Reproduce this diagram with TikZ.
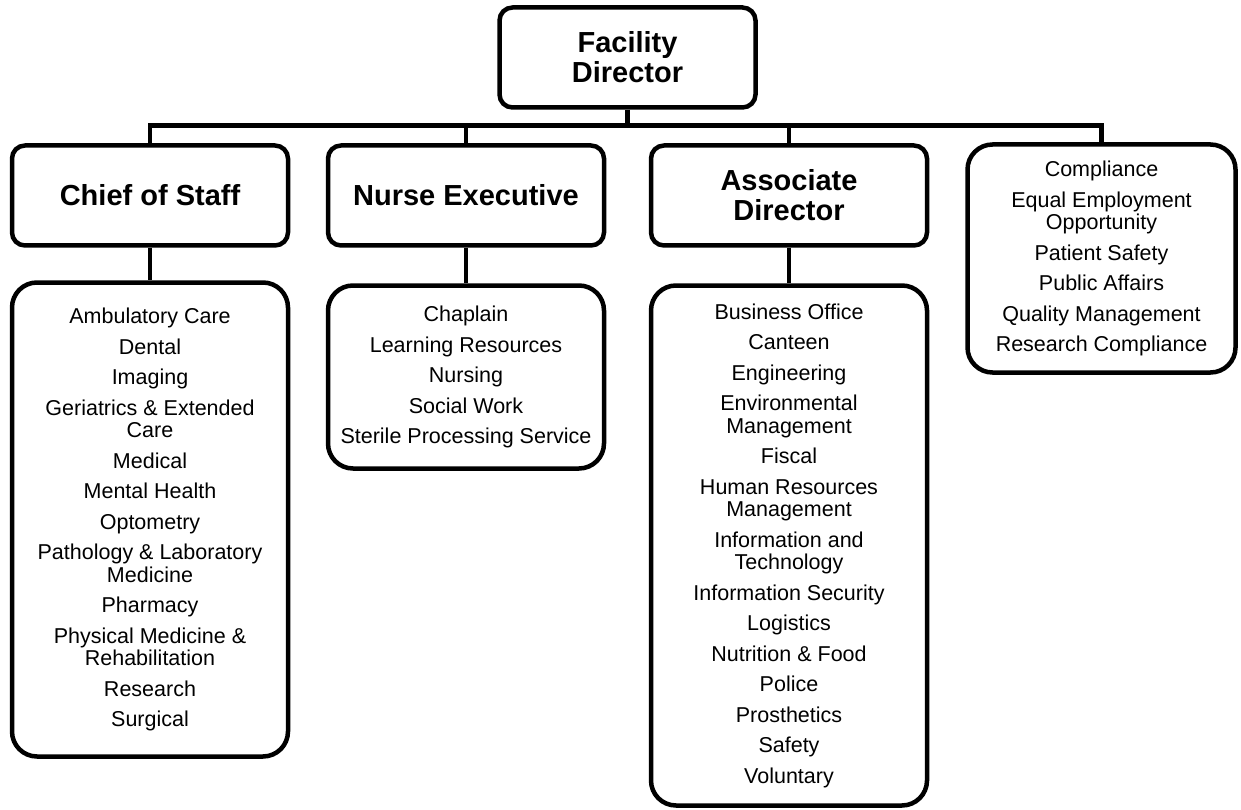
\documentclass[tikz,border=0pt]{standalone}
\usepackage{fontspec}
\setmainfont{Liberation Sans}
\usetikzlibrary{positioning}
\newcommand{\nextunit}{\\[8pt]}
\tikzset{
  unit box/.style={draw, line width=4.5pt, rounded corners=13pt, align=center, inner sep=0pt, fill=white},
  title/.style={unit box, font=\fontsize{29}{30}\selectfont\bfseries, minimum width=276pt, minimum height=100pt},
  staff list/.style={unit box, rounded corners=25pt, font=\fontsize{21.5}{22.5}\selectfont, minimum width=276pt},
  link/.style={line width=4.5pt}
}

\begin{document}
\begin{tikzpicture}[x=1pt,y=-1pt]
    \useasboundingbox (0,0) rectangle (1241,810);

    \node (fd) [title, minimum width=256pt] at (627.5,57.5) {Facility\\Director};
    \coordinate (bus) at (627.5,125.5);

    \node (cos) [title] at (150,195.5) {Chief of Staff};
    \node (ne) [title, right of=cos, node distance=316pt] {Nurse Executive};
    \node (ad) [title, right of=ne, node distance=323pt] {Associate\\Director};
    \node (oth) [staff list, minimum width=268pt, minimum height=228pt] at (1101.5,258.5)
      {Compliance\nextunit Equal Employment\\Opportunity\nextunit Patient Safety\nextunit
       Public Affairs\nextunit Quality Management\nextunit Research Compliance};

    \node (cosl) [staff list, minimum height=474pt, below of=cos, node distance=324pt]
      {Ambulatory Care\nextunit Dental\nextunit Imaging\nextunit Geriatrics \& Extended\\Care\nextunit
       Medical\nextunit Mental Health\nextunit Optometry\nextunit
       Pathology \& Laboratory\\Medicine\nextunit Pharmacy\nextunit
       Physical Medicine \&\\Rehabilitation\nextunit Research\nextunit Surgical};
    \node (nel) [staff list, minimum height=183pt, below of=ne, node distance=181.5pt]
      {Chaplain\nextunit Learning Resources\nextunit Nursing\nextunit Social Work\nextunit
       Sterile Processing Service};
    \node (adl) [staff list, minimum height=520pt, below of=ad, node distance=350pt]
      {Business Office\nextunit Canteen\nextunit Engineering\nextunit Environmental\\Management\nextunit
       Fiscal\nextunit Human Resources\\Management\nextunit Information and\\Technology\nextunit
       Information Security\nextunit Logistics\nextunit Nutrition \& Food\nextunit Police\nextunit
       Prosthetics\nextunit Safety\nextunit Voluntary};

    \draw[link] (fd.south) -- (bus);
    \draw[link] (cos.north) |- (bus) -| (oth.north);
    \draw[link] (bus) -| (ne.north);
    \draw[link] (bus) -| (ad.north);

    \draw[link] (cos) -- (cosl);
    \draw[link] (ne) -- (nel);
    \draw[link] (ad) -- (adl);
\end{tikzpicture}
\end{document}
